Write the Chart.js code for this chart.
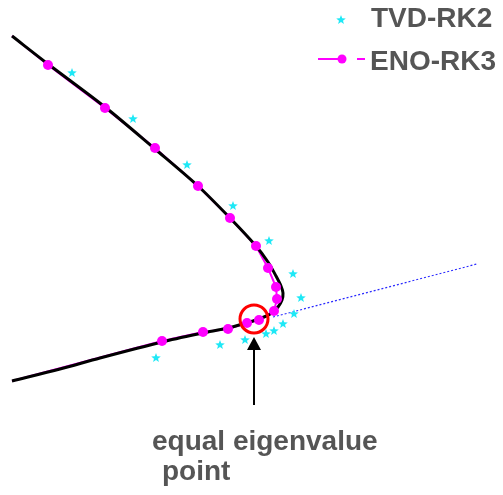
<!DOCTYPE html>
<html>
<head>
<meta charset="utf-8">
<script src="https://cdn.jsdelivr.net/npm/chart.js@4/dist/chart.umd.min.js"></script>
<style>
  html, body { margin: 0; padding: 0; background: #ffffff; }
  canvas { display: block; }
</style>
</head>
<body>
<canvas id="c" width="503" height="495"></canvas>
<script>
// Exact eigenvalue branch (continuous curve)
const exactX = [12, 48, 105, 155, 198, 230, 256, 268, 276, 281, 283, 282, 278, 272, 264, 253, 228, 203, 162, 100, 60, 12];
const exactY = [459, 431, 388, 346, 309, 277, 249, 233, 219, 209, 202, 195, 188, 182, 178, 174, 167, 162, 153, 137, 126, 114];

// ENO-RK3 samples (line ends run to the plot edges)
const enoX = [12, 48, 105, 155, 198, 230, 256, 268, 276, 277, 274, 259, 247, 228, 203, 162, 12];
const enoY = [459, 430, 387, 347, 309, 277, 249, 227, 208, 196, 184, 175, 172, 166, 163, 154, 114];

// TVD-RK2 samples
const tvdX = [72, 133, 187, 233, 269, 293, 301, 294, 283, 274, 266, 245, 220, 156];
const tvdY = [422, 376, 330, 289, 254, 221, 197, 181, 171, 164, 161, 155, 150, 137];

// Continuation of the merged eigenvalue beyond the turning point
const contX = [273, 477];
const contY = [178, 231];

// Equal eigenvalue point
const markX = [254];
const markY = [176];

const legendLabels = ['TVD-RK2', 'ENO-RK3'];
const noteLines = ['equal eigenvalue', 'point'];

const pts = (xs, ys) => xs.map((x, i) => ({ x, y: ys[i] }));

// filled five-point star used as the TVD-RK2 marker
function makeStar(size, color) {
  const c = document.createElement('canvas');
  c.width = size; c.height = size;
  const g = c.getContext('2d');
  const cx = size / 2, cy = size / 2, R = size / 2, r = R * 0.42;
  g.beginPath();
  for (let i = 0; i < 10; i++) {
    const rad = i % 2 === 0 ? R : r;
    const a = -Math.PI / 2 + i * Math.PI / 5;
    const px = cx + rad * Math.cos(a), py = cy + rad * Math.sin(a);
    if (i === 0) g.moveTo(px, py); else g.lineTo(px, py);
  }
  g.closePath();
  g.fillStyle = color;
  g.fill();
  return c;
}
const CYAN = '#1ee8f6';
const MAGENTA = '#ff00ff';
const starImg = makeStar(10, CYAN);

const TEXT = '#555555';
const FONT = 'bold 28px "Liberation Sans", Arial, sans-serif';

const annotate = {
  id: 'annotate',
  afterDatasetsDraw(chart) {
    const { ctx, scales: { x, y } } = chart;
    ctx.save();
    // arrow pointing up at the marked point
    const ax = x.getPixelForValue(markX[0]);
    const tip = y.getPixelForValue(158);
    const base = y.getPixelForValue(145);
    const tail = y.getPixelForValue(90);
    ctx.strokeStyle = '#000';
    ctx.lineWidth = 2;
    ctx.beginPath();
    ctx.moveTo(ax, tail);
    ctx.lineTo(ax, base);
    ctx.stroke();
    ctx.fillStyle = '#000';
    ctx.beginPath();
    ctx.moveTo(ax, tip);
    ctx.lineTo(ax - 7, base);
    ctx.lineTo(ax + 7, base);
    ctx.closePath();
    ctx.fill();

    // caption
    ctx.font = FONT;
    ctx.fillStyle = TEXT;
    ctx.textBaseline = 'alphabetic';
    ctx.textAlign = 'left';
    ctx.fillText(noteLines[0], x.getPixelForValue(152), y.getPixelForValue(45));
    ctx.fillText(noteLines[1], x.getPixelForValue(162), y.getPixelForValue(15));

    // legend
    ctx.drawImage(starImg, 336, 15);
    ctx.fillText(legendLabels[0], 371, 27);
    ctx.strokeStyle = MAGENTA;
    ctx.lineWidth = 2;
    ctx.beginPath();
    ctx.moveTo(318, 59); ctx.lineTo(346, 59);
    ctx.moveTo(357, 59); ctx.lineTo(365, 59);
    ctx.stroke();
    ctx.fillStyle = MAGENTA;
    ctx.beginPath();
    ctx.arc(342, 59, 4.5, 0, Math.PI * 2);
    ctx.fill();
    ctx.fillStyle = TEXT;
    ctx.fillText(legendLabels[1], 370, 70);
    ctx.restore();
  }
};

new Chart(document.getElementById('c'), {
  type: 'scatter',
  data: {
    datasets: [
      { // red ring round the equal eigenvalue point
        data: pts(markX, markY), showLine: false,
        pointRadius: 14, pointBorderWidth: 3,
        pointBorderColor: '#ff0000', pointBackgroundColor: 'rgba(0,0,0,0)'
      },
      { // TVD-RK2 markers
        data: pts(tvdX, tvdY), showLine: false,
        pointStyle: starImg, pointRadius: 5
      },
      { // ENO-RK3 markers
        data: pts(enoX, enoY).slice(1, -1), showLine: false,
        pointRadius: 5, pointBorderWidth: 0,
        pointBackgroundColor: MAGENTA
      },
      { // exact curve
        data: pts(exactX, exactY), showLine: true,
        borderColor: '#000000', borderWidth: 3, tension: 0.3,
        pointRadius: 0
      },
      { // ENO-RK3 connecting line
        data: pts(enoX, enoY), showLine: true,
        borderColor: MAGENTA, borderWidth: 2, tension: 0,
        pointRadius: 0
      },
      { // continuation (dotted)
        data: pts(contX, contY), showLine: true,
        borderColor: '#2a2aff', borderWidth: 1.2, borderDash: [2, 2],
        pointRadius: 0
      }
    ]
  },
  options: {
    responsive: false,
    animation: false,
    events: [],
    layout: { padding: 0, autoPadding: false },
    plugins: { legend: { display: false }, tooltip: { enabled: false } },
    scales: {
      x: { type: 'linear', min: 0, max: 503, display: false },
      y: { type: 'linear', min: 0, max: 495, display: false }
    }
  },
  plugins: [annotate]
});
</script>
</body>
</html>
